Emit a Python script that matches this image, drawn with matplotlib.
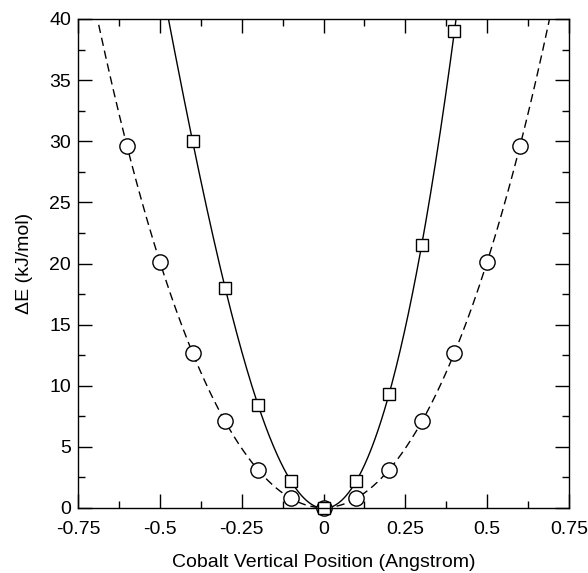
import numpy as np
import matplotlib
matplotlib.use("Agg")
import matplotlib.pyplot as plt
from matplotlib.ticker import MultipleLocator

plt.rcParams['font.family'] = ['Liberation Sans', 'DejaVu Sans']

# circles (dashed curve)
x_circ = [-0.6, -0.5, -0.4, -0.3, -0.2, -0.1, 0.0, 0.1, 0.2, 0.3, 0.4, 0.5, 0.6]
e_circ = [29.6, 20.1, 12.7, 7.1, 3.1, 0.8, 0.0, 0.8, 3.1, 7.1, 12.7, 20.1, 29.6]

# squares (solid curve)
x_sq = [-0.4, -0.3, -0.2, -0.1, 0.0, 0.1, 0.2, 0.3, 0.4]
e_sq = [30.0, 18.0, 8.4, 2.2, 0.0, 2.2, 9.3, 21.5, 39.0]

x_ticks = [-0.75, -0.5, -0.25, 0, 0.25, 0.5, 0.75]
x_labels = ["-0.75", "-0.5", "-0.25", "0", "0.25", "0.5", "0.75"]

fig = plt.figure(figsize=(5.88, 5.73), dpi=100)
ax = fig.add_axes([78/588, 1 - 508/573, (569 - 78)/588, (508 - 19)/573])

# smooth fitted curves through the points
xx = np.linspace(-0.75, 0.75, 600)
p_circ = np.polyfit(x_circ, e_circ, 4)
p_sq = np.polyfit(x_sq, e_sq, 4)
ax.plot(xx, np.polyval(p_circ, xx), color='black', lw=1, ls=(0, (6, 3.5)))
ax.plot(xx, np.polyval(p_sq, xx), color='black', lw=1, ls='-')

ax.plot(x_circ, e_circ, ls='none', marker='o', ms=11, mfc='white', mec='black', mew=1, clip_on=False)
ax.plot(x_sq, e_sq, ls='none', marker='s', ms=8.8, mfc='white', mec='black', mew=1, clip_on=False)

ax.set_xlim(-0.75, 0.75)
ax.set_ylim(0, 40)
ax.set_xticks(x_ticks)
ax.set_xticklabels(x_labels)
ax.xaxis.set_minor_locator(MultipleLocator(0.125))
ax.yaxis.set_major_locator(MultipleLocator(5))
ax.yaxis.set_minor_locator(MultipleLocator(2.5))

ax.tick_params(which='both', direction='in', top=True, right=True, labelsize=14, width=1)
ax.tick_params(which='major', length=10)
ax.tick_params(axis='x', which='major', pad=9)
ax.tick_params(axis='y', which='major', pad=5)
ax.tick_params(which='minor', length=5)
for s in ax.spines.values():
    s.set_linewidth(1)

ax.set_xlabel("Cobalt Vertical Position (Angstrom)", fontsize=14, labelpad=12)
ax.set_ylabel("\u0394E (kJ/mol)", fontsize=14, labelpad=12)

fig.savefig("out.png", dpi=100)
